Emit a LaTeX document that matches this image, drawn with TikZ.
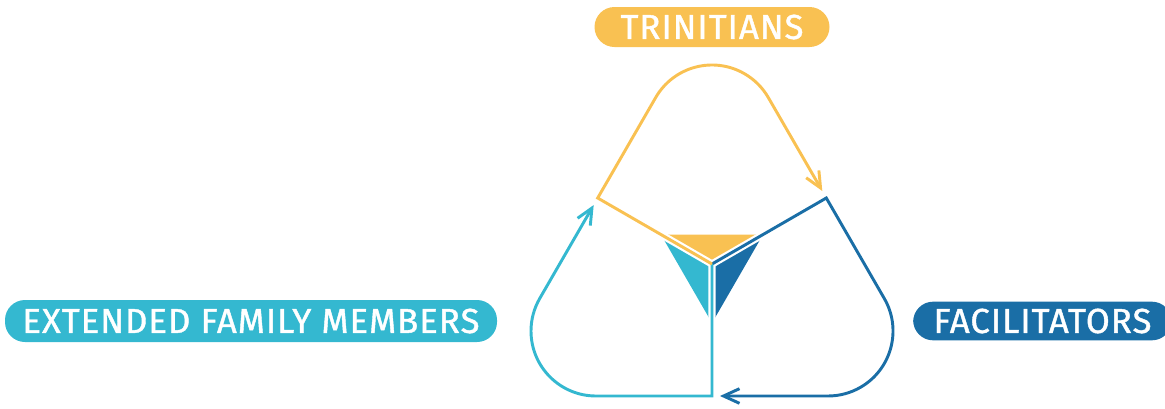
\documentclass[tikz,border=0pt]{standalone}
\usepackage{fontspec}
\setmainfont{Fira Sans}[LetterSpace=3,FakeBold=1.2]
\usetikzlibrary{arrows.meta}
\definecolor{cyel}{RGB}{249,193,82}
\definecolor{clb}{RGB}{52,184,208}
\definecolor{cdb}{RGB}{26,110,166}
\begin{document}
\begin{tikzpicture}[x=0.75pt,y=-0.75pt,
  loopline/.style={line width=2.2pt, line join=miter},
  arr/.style={-{Straight Barb[length=12pt,width=11pt,line width=2.2pt]}},
  pill/.style={rounded corners=15pt, minimum height=30pt, text=white,
    font=\fontsize{26}{28}\selectfont, inner sep=0pt}]
\useasboundingbox (0,0) rectangle (1165,408);
\begin{scope}
\clip (0,0) rectangle (1165,408);
\coordinate (C) at (712,264);
\coordinate (A) at (597.7,198);
\coordinate (B) at (826.3,198);
\coordinate (D) at (712,396);
\coordinate (TL) at (660.9,234.5);
\coordinate (TR) at (763.1,234.5);
\coordinate (Bt) at (712,323);
\coordinate (P1) at (655.7,97.5);
\coordinate (YT) at (822.3,191);
\coordinate (Q1) at (884.3,298.5);
\coordinate (BT) at (720,396);
\coordinate (R1) at (596,396);
\coordinate (LT) at (593.7,205);
% inner triangle
\fill[cyel] (TL) -- (TR) -- (C) -- cycle;
\fill[clb] (TL) -- (C) -- (Bt) -- cycle;
\fill[cdb] (TR) -- (C) -- (Bt) -- cycle;
\draw[white, line width=5.5pt] (TL) -- (C) -- (TR) (C) -- (Bt);
% loops
\draw[loopline, cdb, arr] (C) -- (B) -- (Q1) arc[start angle=-30, end angle=90, radius=65] -- (BT);
\draw[loopline, clb, arr] (C) -- (D) -- (R1) arc[start angle=90, end angle=210, radius=65] -- (LT);
\draw[loopline, cyel, arr] (C) -- (A) -- (P1) arc[start angle=210, end angle=330, radius=65] -- (YT);
% labels
\node[pill, fill=cyel, minimum width=176.25pt] (trin) at (712,27) {TRINITIANS};
\node[pill, fill=clb, minimum width=369pt, minimum height=31.5pt] (ext) at (251,321) {EXTENDED FAMILY MEMBERS};
\node[pill, fill=cdb, minimum width=194pt, minimum height=29pt] (fac) at (1042.5,321) {FACILITATORS};
\end{scope}
\end{tikzpicture}
\end{document}
